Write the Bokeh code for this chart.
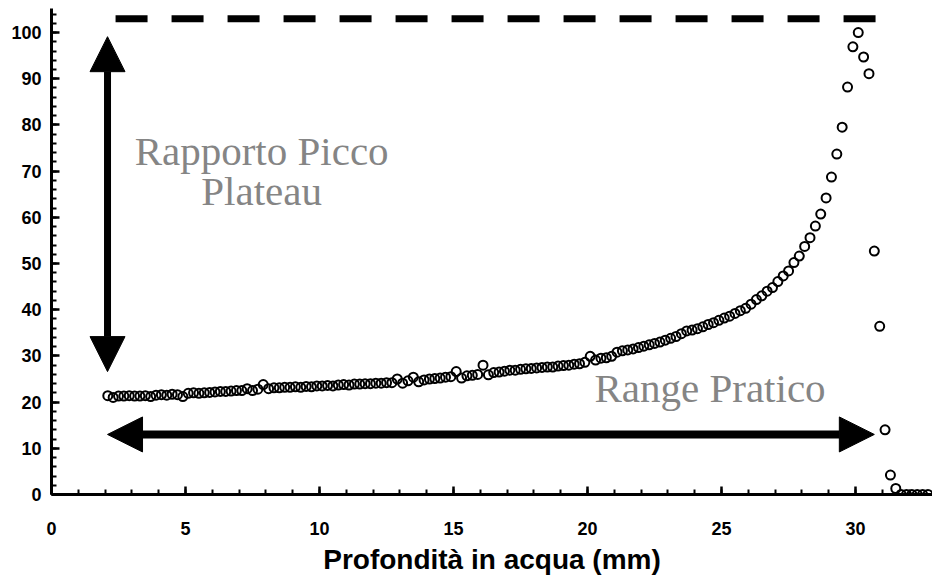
from bokeh.plotting import figure
from bokeh.models import Arrow, NormalHead, Label, FixedTicker
from bokeh.embed import file_html
from bokeh.resources import INLINE

# depth in water (mm)
depth = [
    2.1, 2.3, 2.5, 2.7, 2.9, 3.1, 3.3, 3.5, 3.7, 3.9,
    4.1, 4.3, 4.5, 4.7, 4.9, 5.1, 5.3, 5.5, 5.7, 5.9,
    6.1, 6.3, 6.5, 6.7, 6.9, 7.1, 7.3, 7.5, 7.7, 7.9,
    8.1, 8.3, 8.5, 8.7, 8.9, 9.1, 9.3, 9.5, 9.7, 9.9,
    10.1, 10.3, 10.5, 10.7, 10.9, 11.1, 11.3, 11.5, 11.7, 11.9,
    12.1, 12.3, 12.5, 12.7, 12.9, 13.1, 13.3, 13.5, 13.7, 13.9,
    14.1, 14.3, 14.5, 14.7, 14.9, 15.1, 15.3, 15.5, 15.7, 15.9,
    16.1, 16.3, 16.5, 16.7, 16.9, 17.1, 17.3, 17.5, 17.7, 17.9,
    18.1, 18.3, 18.5, 18.7, 18.9, 19.1, 19.3, 19.5, 19.7, 19.9,
    20.1, 20.3, 20.5, 20.7, 20.9, 21.1, 21.3, 21.5, 21.7, 21.9,
    22.1, 22.3, 22.5, 22.7, 22.9, 23.1, 23.3, 23.5, 23.7, 23.9,
    24.1, 24.3, 24.5, 24.7, 24.9, 25.1, 25.3, 25.5, 25.7, 25.9,
    26.1, 26.3, 26.5, 26.7, 26.9, 27.1, 27.3, 27.5, 27.7, 27.9,
    28.1, 28.3, 28.5, 28.7, 28.9, 29.1, 29.3, 29.5, 29.7, 29.9,
    30.1, 30.3, 30.5, 30.7, 30.9, 31.1, 31.3, 31.5, 31.7, 31.9,
    32.1, 32.3, 32.5, 32.7,
]
# relative dose
dose = [
    21.4, 21.0, 21.3, 21.3, 21.4, 21.3, 21.3, 21.4, 21.2, 21.5,
    21.6, 21.5, 21.7, 21.6, 21.2, 21.9, 22.0, 21.9, 22.0, 22.1,
    22.2, 22.3, 22.3, 22.4, 22.5, 22.5, 22.9, 22.5, 22.8, 23.8,
    22.9, 23.1, 23.1, 23.2, 23.2, 23.3, 23.2, 23.4, 23.3, 23.5,
    23.5, 23.6, 23.5, 23.7, 23.8, 23.7, 23.9, 23.9, 24.0, 24.0,
    24.1, 24.1, 24.2, 24.2, 25.0, 24.1, 24.6, 25.4, 24.4, 24.8,
    25.0, 25.1, 25.2, 25.4, 25.5, 26.6, 25.2, 25.7, 25.8, 26.0,
    28.0, 25.9, 26.4, 26.5, 26.7, 26.9, 26.9, 27.1, 27.2, 27.3,
    27.4, 27.5, 27.6, 27.6, 27.8, 27.9, 28.0, 28.2, 28.3, 28.6,
    29.9, 29.1, 29.5, 29.6, 29.9, 30.8, 31.1, 31.3, 31.5, 31.8,
    32.1, 32.4, 32.7, 33.0, 33.4, 33.8, 34.2, 34.8, 35.4, 35.6,
    35.9, 36.3, 36.8, 37.2, 37.7, 38.2, 38.6, 39.2, 39.8, 40.3,
    41.2, 42.2, 43.0, 44.0, 44.8, 46.1, 47.3, 48.4, 50.2, 51.6,
    53.7, 55.6, 58.1, 60.7, 64.2, 68.7, 73.7, 79.5, 88.2, 96.9,
    100.0, 94.7, 91.1, 52.7, 36.4, 14.0, 4.2, 1.3, 0.0, 0.0,
    0.0, 0.0, 0.0, 0.0,
]
x_ticks = [0, 5, 10, 15, 20, 25, 30]
y_ticks = [0, 10, 20, 30, 40, 50, 60, 70, 80, 90, 100]

# annotation levels
plateau_top = 103.0
dash_x = [2.39, 30.75]
vert_arrow_x = 2.09
vert_arrow_y = (26.6, 99.1)
horiz_arrow_y = 13.0
horiz_arrow_x = (2.09, 30.7)

p = figure(width=932, height=584, output_backend="svg", toolbar_location=None,
           x_range=(0, 32.87), y_range=(0, 105.2),
           min_border_left=51, min_border_right=0, min_border_top=8, min_border_bottom=90)
p.outline_line_color = None
p.xgrid.grid_line_color = None
p.ygrid.grid_line_color = None
p.background_fill_color = "white"

for ax in (p.xaxis[0], p.yaxis[0]):
    ax.axis_line_width = 3
    ax.axis_line_color = "black"
    ax.major_tick_in = 8
    ax.major_tick_out = 0
    ax.minor_tick_in = 5
    ax.minor_tick_out = 0
    ax.major_tick_line_width = 2.5
    ax.minor_tick_line_width = 2
    ax.major_tick_line_color = "black"
    ax.minor_tick_line_color = "black"
    ax.major_label_text_font = "Liberation Sans"
    ax.major_label_text_font_style = "bold"
    ax.major_label_text_font_size = "18px"
    ax.major_label_text_color = "black"

p.xaxis.ticker = FixedTicker(ticks=x_ticks, minor_ticks=[i for i in range(0, 33)])
p.yaxis.ticker = FixedTicker(ticks=y_ticks, minor_ticks=[i * 2 for i in range(0, 53)])
p.xaxis.major_label_standoff = 27
p.yaxis.major_label_standoff = 10
p.xaxis.axis_label = "Profondità in acqua (mm)"
p.xaxis.axis_label_text_font = "Liberation Sans"
p.xaxis.axis_label_text_font_style = "bold"
p.xaxis.axis_label_text_font_size = "28px"
p.xaxis.axis_label_text_color = "black"
p.xaxis.axis_label_standoff = 6

# dashed plateau line
p.line(dash_x, [plateau_top, plateau_top], line_color="black", line_width=7,
       line_dash="32 24", line_cap="butt")

# arrows
p.add_layout(Arrow(start=NormalHead(size=35, fill_color="black", line_color="black"),
                   end=NormalHead(size=35, fill_color="black", line_color="black"),
                   x_start=vert_arrow_x, y_start=vert_arrow_y[0],
                   x_end=vert_arrow_x, y_end=vert_arrow_y[1],
                   line_width=7, line_color="black"))
p.add_layout(Arrow(start=NormalHead(size=35, fill_color="black", line_color="black"),
                   end=NormalHead(size=35, fill_color="black", line_color="black"),
                   x_start=horiz_arrow_x[0], y_start=horiz_arrow_y,
                   x_end=horiz_arrow_x[1], y_end=horiz_arrow_y,
                   line_width=8, line_color="black"))

# data points
p.scatter(depth, dose, marker="circle", size=9, fill_color=None,
          line_color="black", line_width=2)

# texts
for txt, xx, yy in [("Rapporto Picco", 7.84, 74.3), ("Plateau", 7.84, 65.6),
                    ("Range Pratico", 24.57, 23.1)]:
    p.add_layout(Label(x=xx, y=yy, text=txt, text_font="Liberation Serif",
                       text_font_size="41px", text_color="#858585",
                       text_align="center", text_baseline="alphabetic"))

open("out.html", "w").write(file_html(p, INLINE))
